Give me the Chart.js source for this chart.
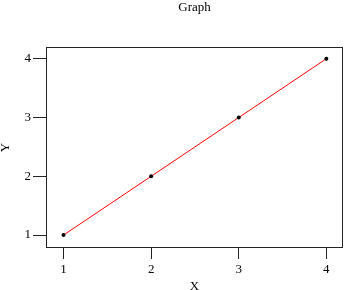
<!DOCTYPE html>
<html>
<head>
<meta charset="utf-8">
<script src="https://cdn.jsdelivr.net/npm/chart.js@4/dist/chart.umd.min.js"></script>
<style>
    html, body { margin: 0; padding: 0; background: #fff; }
    #chart { display: block; }
</style>
</head>
<body>
<canvas id="chart" width="347" height="290"></canvas>
<script>
const xValues = [1, 2, 3, 4];
const yValues = [1, 2, 3, 4];
const xTicks = [1, 2, 3, 4];
const yTicks = [1, 2, 3, 4];

const serif = "'Liberation Serif', 'Times New Roman', serif";
const axisColor = "#222";

// box round the plot area, like the reference
const frame = {
    id: "frame",
    afterDatasetsDraw(chart) {
        const { ctx, chartArea } = chart;
        ctx.save();
        ctx.strokeStyle = axisColor;
        ctx.lineWidth = 1;
        ctx.strokeRect(chartArea.left + 0.5, chartArea.top + 0.5,
            chartArea.right - chartArea.left - 1, chartArea.bottom - chartArea.top - 1);
        ctx.restore();
    },
};

function initChart() {
    const canvas = document.getElementById("chart");
    new Chart(canvas, {
        type: "scatter",
        data: {
            datasets: [
                {
                    data: xValues.map((x, i) => ({ x, y: yValues[i] })),
                    showLine: true,
                    borderColor: "#ff0000",
                    borderWidth: 1,
                    pointRadius: 2,
                    pointBackgroundColor: "#000",
                    pointBorderWidth: 0,
                },
            ],
        },
        options: {
            responsive: false,
            animation: false,
            layout: { padding: { left: 0, right: 2, top: 0, bottom: 0 } },
            plugins: {
                legend: { display: false },
                tooltip: { enabled: false },
                title: {
                    display: true,
                    fullSize: false,
                    text: "Graph",
                    color: "#000",
                    font: { family: serif, size: 13, weight: "normal" },
                    padding: { top: 0, bottom: 31.4 },
                },
            },
            scales: {
                x: {
                    type: "linear",
                    min: 0.8,
                    max: 4.19,
                    afterFit: (scale) => { scale.height = 42; },
                    afterBuildTicks: (scale) => { scale.ticks = xTicks.map((v) => ({ value: v })); },
                    grid: { drawOnChartArea: false, drawTicks: true, tickLength: 11, color: axisColor },
                    border: { display: false },
                    ticks: { color: "#000", padding: 3, font: { family: serif, size: 13 } },
                    title: {
                        display: true,
                        text: "X",
                        color: "#000",
                        font: { family: serif, size: 13 },
                        padding: { top: 0, bottom: -4.5 },
                    },
                },
                y: {
                    type: "linear",
                    min: 0.78,
                    max: 4.2,
                    afterFit: (scale) => { scale.width = 46; },
                    afterBuildTicks: (scale) => { scale.ticks = yTicks.map((v) => ({ value: v })); },
                    grid: { drawOnChartArea: false, drawTicks: true, tickLength: 13, color: axisColor },
                    border: { display: false },
                    ticks: { color: "#000", padding: 2, font: { family: serif, size: 13 } },
                    title: {
                        display: true,
                        text: "Y",
                        color: "#000",
                        font: { family: serif, size: 13 },
                        padding: { top: -2.5, bottom: 0 },
                    },
                },
            },
        },
        plugins: [frame],
    });
}

document.addEventListener("DOMContentLoaded", initChart);
</script>
</body>
</html>
